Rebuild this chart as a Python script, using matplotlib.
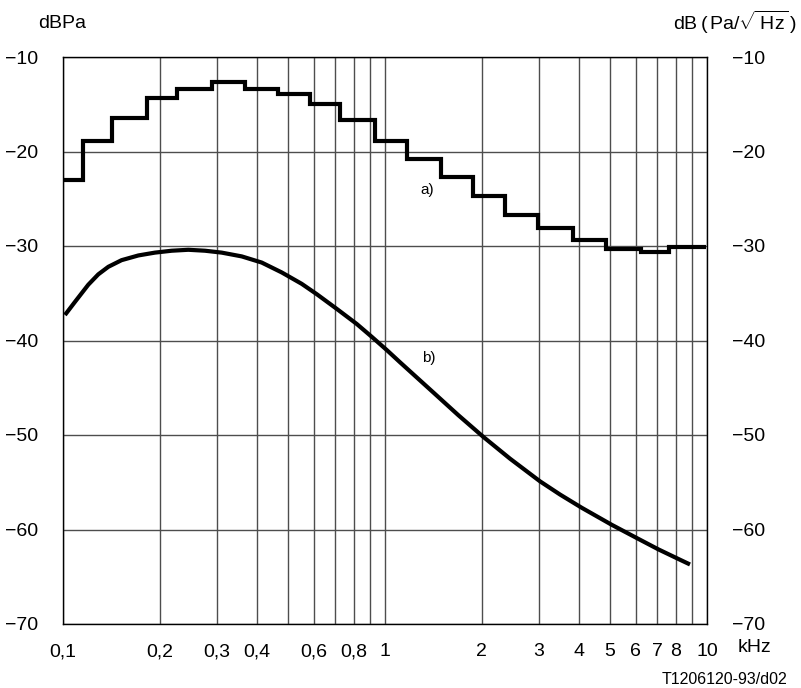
import numpy as np
import matplotlib
matplotlib.use("Agg")
import matplotlib.pyplot as plt
from matplotlib.ticker import FixedLocator, NullFormatter, NullLocator

plt.rcParams["font.family"] = ["Liberation Sans", "DejaVu Sans"]
plt.rcParams["mathtext.fontset"] = "custom"
plt.rcParams["mathtext.rm"] = "Liberation Sans"

# curve a): stepped band levels (kHz edges, dBPa)
band_edges = [0.1, 0.115, 0.142, 0.182, 0.226, 0.290, 0.367, 0.465, 0.585, 0.725,
              0.93, 1.17, 1.49, 1.88, 2.36, 2.99, 3.84, 4.86, 6.24, 7.62, 9.95]
band_levels = [-23.0, -18.9, -16.5, -14.3, -13.4, -12.6, -13.4, -13.9, -15.0, -16.7,
               -18.9, -20.8, -22.7, -24.7, -26.7, -28.1, -29.4, -30.3, -30.6, -30.1]

# curve b): spectral density, dB(Pa/sqrt(Hz))
freq_b = [0.1014, 0.109, 0.1198, 0.1287, 0.1383, 0.152, 0.1714, 0.193, 0.2176,
          0.245, 0.276, 0.311, 0.359, 0.414, 0.478, 0.551, 0.614, 0.708, 0.817,
          0.909, 1.012, 1.113, 1.254, 1.413, 1.689, 2.02, 2.444, 3.029, 3.496,
          4.083, 5.058, 6.049, 7.061, 8.245, 8.855]
level_b = [-37.3, -35.9, -34.1, -33.0, -32.2, -31.5, -31.0, -30.7, -30.5,
           -30.4, -30.5, -30.7, -31.1, -31.75, -32.8, -34.0, -35.1, -36.65, -38.25,
           -39.6, -41.0, -42.3, -43.9, -45.5, -47.9, -50.2, -52.5, -54.9, -56.3,
           -57.7, -59.5, -60.9, -62.1, -63.2, -63.7]

xtick_vals = [0.1, 0.2, 0.3, 0.4, 0.6, 0.8, 1, 2, 3, 4, 5, 6, 7, 8, 10]
xtick_labels = ["0,1", "0,2", "0,3", "0,4", "0,6", "0,8", "1", "2", "3", "4",
                "5", "6", "7", "8", "10"]
ytick_vals = [-70, -60, -50, -40, -30, -20, -10]

fig = plt.figure(figsize=(8.01, 6.88), dpi=100)
ax = fig.add_axes([63 / 801, 1 - 624 / 688, 644 / 801, 567 / 688])

ax.set_xscale("log")
ax.set_xlim(0.1, 10)
ax.set_ylim(-70, -10)

grid_x = [k * d for d in (0.1, 1) for k in range(1, 10)] + [10]
for gx in grid_x:
    ax.axvline(gx, color="0.3", lw=1.0, zorder=1)
for gy in ytick_vals:
    ax.axhline(gy, color="0.3", lw=1.0, zorder=1)

ax.stairs(band_levels, band_edges, baseline=None, color="black", lw=3, zorder=3)
ax.plot(freq_b, level_b, color="black", lw=3, zorder=3,
        solid_joinstyle="round", solid_capstyle="butt")

ax.xaxis.set_major_locator(FixedLocator(xtick_vals))
ax.xaxis.set_minor_locator(NullLocator())
ax.xaxis.set_minor_formatter(NullFormatter())
ax.set_xticklabels(xtick_labels)
ax.set_yticks(ytick_vals)
ax.set_yticklabels(["\u221270", "\u221260", "\u221250", "\u221240", "\u221230",
                    "\u221220", "\u221210"])
ax.tick_params(axis="both", length=0, labelsize=14)
ax.tick_params(axis="x", pad=14)
ax.tick_params(axis="y", pad=18, labelleft=True, labelright=True)
for s in ax.spines.values():
    s.set_color("black")
    s.set_linewidth(1)

fig.text(738 / 801, 1 - 648 / 688, "kHz", fontsize=14, ha="left", va="center")
fig.text(38 / 801, 1 - 23 / 688, "dBPa", fontsize=14, ha="left", va="center")
fig.text(797 / 801, 1 - 22 / 688,
         r"dB$\,(\,\mathrm{Pa}/\sqrt{\,\mathrm{Hz}}\,)$",
         fontsize=14, ha="right", va="center")
fig.text(787 / 801, 1 - 679 / 688, "T1206120-93/d02", fontsize=11.5,
         ha="right", va="center")
ax.text(1.284, -24.1, "a)", fontsize=11, ha="left", va="center")
ax.text(1.30, -41.8, "b)", fontsize=11, ha="left", va="center")

fig.savefig("out.png", dpi=100)
